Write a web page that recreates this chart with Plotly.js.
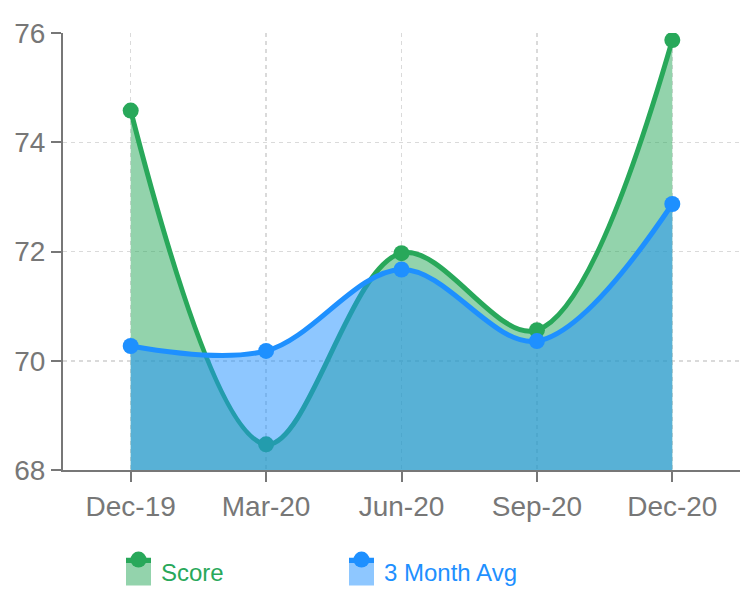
<!DOCTYPE html>
<html>
<head>
<meta charset="utf-8">
<script src="https://cdn.plot.ly/plotly-3.0.1.min.js"></script>
<style>html,body{margin:0;padding:0;background:#fff;}#chart{width:748px;height:600px;}</style>
</head>
<body>
<div id="chart"></div>
<script>
const categories = ["Dec-19", "Mar-20", "Jun-20", "Sep-20", "Dec-20"];
const scoreValues = [74.58, 68.47, 71.97, 70.56, 75.87];
const avgValues = [70.27, 70.18, 71.67, 70.36, 72.87];
const yTicks = [68, 70, 72, 74, 76];

const green = "#28a85a";
const blue = "#1e90ff";

const traces = [
  {
    x: categories, y: scoreValues, name: "Score", type: "scatter", mode: "lines+markers",
    line: {color: green, width: 5, shape: "spline", smoothing: 1},
    marker: {color: green, size: 16},
    fill: "tozeroy", fillcolor: "rgba(40,168,90,0.5)"
  },
  {
    x: categories, y: avgValues, name: "3 Month Avg", type: "scatter", mode: "lines+markers",
    line: {color: blue, width: 5, shape: "spline", smoothing: 1},
    marker: {color: blue, size: 16},
    fill: "tozeroy", fillcolor: "rgba(30,144,255,0.5)"
  }
];

const layout = {
  width: 748, height: 600,
  margin: {l: 63, r: 8, t: 33, b: 130},
  paper_bgcolor: "#fff", plot_bgcolor: "#fff",
  font: {family: "Liberation Sans, Arial, sans-serif", size: 28, color: "#777"},
  showlegend: true,
  legend: {
    orientation: "h", x: 121/748, xref: "container", xanchor: "left",
    y: 28/600, yref: "container", yanchor: "middle",
    entrywidth: 178, entrywidthmode: "pixels",
    font: {size: 24}, itemclick: false, borderwidth: 0
  },
  xaxis: {
    type: "category", range: [-0.5, 4.5],
    showline: true, linecolor: "#777", linewidth: 2,
    ticks: "outside", ticklen: 10, tickcolor: "#777", tickwidth: 2,
    showgrid: true, gridcolor: "#dadada", griddash: "4px,4px", gridwidth: 1.5,
    zeroline: false, fixedrange: true,
    tickfont: {size: 28, color: "#777"}
  },
  yaxis: {
    range: [68, 76], tickvals: yTicks,
    showline: true, linecolor: "#777", linewidth: 2,
    ticks: "outside", ticklen: 10, tickcolor: "#777", tickwidth: 2,
    showgrid: true, gridcolor: "#dadada", griddash: "4px,4px", gridwidth: 1.5,
    zeroline: false, fixedrange: true,
    tickfont: {size: 28, color: "#777"}
  }
};

function styleLegend() {
  const cols = [green, blue];
  const items = document.querySelectorAll(".legend .traces");
  items.forEach(function(g, i){
    const t = g.querySelector(".legendtext");
    if (t) t.style.fill = cols[i];
    const f = g.querySelector(".legendfill path");
    if (f) f.setAttribute("d", "M5,-14h25v28h-25z");
    const l = g.querySelector(".legendlines path");
    if (l) { l.setAttribute("d", "M5,-11h25"); l.style.strokeWidth = "5px"; }
    const p = g.querySelector(".legendsymbols .legendpoints path, .legendpoints path.scatterpts");
    if (p) p.setAttribute("transform", "translate(17.5,-12)");
  });
}

Plotly.newPlot("chart", traces, layout, {displayModeBar: false, staticPlot: true}).then(styleLegend);
</script>
</body>
</html>
